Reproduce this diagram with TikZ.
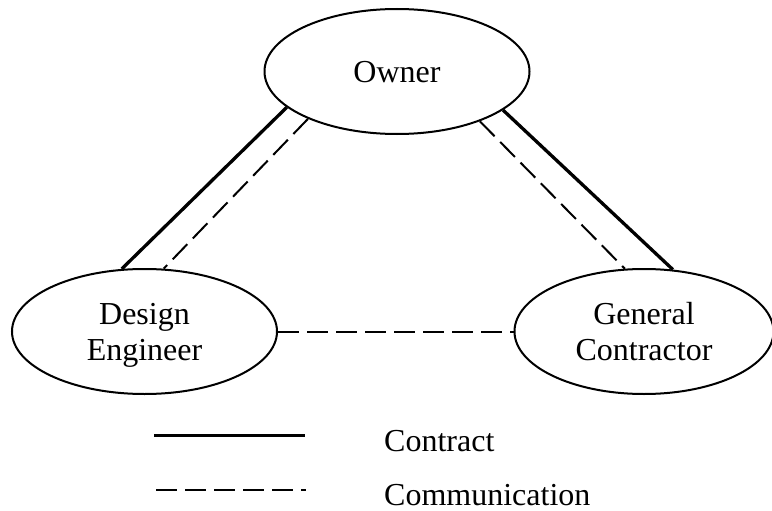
\documentclass[tikz,border=0pt]{standalone}
\usepackage{fontspec}
\setmainfont{Liberation Serif}
\usetikzlibrary{positioning}
\usetikzlibrary{shapes.geometric}

\begin{document}
\begin{tikzpicture}[x=1pt, y=-1pt,
party/.style={ellipse, minimum width=265pt, minimum height=125pt, inner sep=0pt, text depth=0pt, line width=2pt, draw=black, align=center, font=\fontsize{32}{36}\selectfont},
contract/.style={line width=3.3pt, color=black},
comm/.style={line width=2pt, color=black, dash pattern=on 21pt off 8pt},
lbl/.style={anchor=base west, inner sep=0pt, font=\fontsize{32}{36}\selectfont}]
\useasboundingbox (0,0) rectangle (772,511);
\node (owner) [party] at (397, 71.5) {Owner};
\node (design) [party] at (144.5, 331.5) {Design\\Engineer};
\node (general) [party, minimum width=259pt] at (644, 331.5) {General\\Contractor};
\draw [contract] (owner.198.5) to (design.110.6);
\draw [comm] (owner.208.6) to (design.73.5);
\draw [comm] (owner.329.2) to (general.107.3);
\draw [contract] (owner.340.8) to (general.65.5);
\draw [comm] (design.east) to (general.west);
\coordinate (k1) at (154, 435.5);
\coordinate (k2) at (305, 435.5);
\coordinate (k3) at (156, 489.5);
\coordinate (k4) at (306, 489.5);
\draw [contract] (k1) to (k2);
\draw [comm] (k3) to (k4);
\node (contract) [lbl] at (384, 451) {Contract};
\node (communication) [lbl] at (384, 505) {Communication};
\end{tikzpicture}
\end{document}
